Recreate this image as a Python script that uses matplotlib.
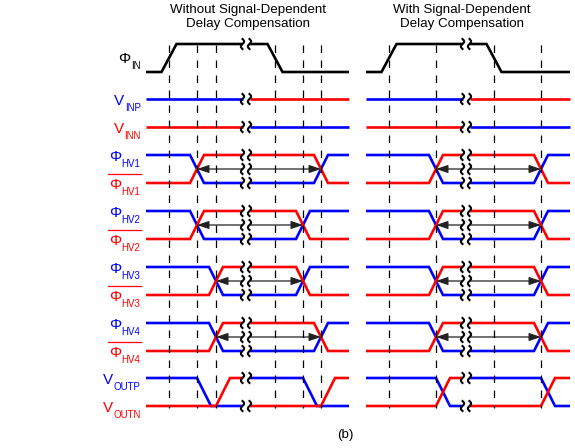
import numpy as np
import matplotlib.pyplot as plt

plt.rcParams['font.family'] = ['Liberation Sans', 'DejaVu Sans']

BLUE = '#0000ff'
RED = '#ff0000'

# time axis is in pixels of the 575x448 picture
left_span = (146, 349)
right_span = (366, 570)
left_break = 246
right_break = 466

titles = ['Without Signal-Dependent', 'Delay Compensation']
titles_r = ['With Signal-Dependent', 'Delay Compensation']

# dashed reference instants
left_dash = [169, 197, 216, 275, 303, 321]
right_dash = [389, 436, 494, 541]

# Φ_IN edges (rise centre, fall centre)
left_phi_in = (169, 275)
right_phi_in = (389, 494)

# Φ_HVk crossings (first, second)
left_hv = [(197, 321), (197, 303), (216, 303), (216, 321)]
right_hv = [(436, 541), (436, 541), (436, 541), (436, 541)]

# V_OUTP fall start / V_OUTN rise start (before break, after break)
left_outp = (197, 303)
left_outn = (216, 321)
right_outp = (436, 541)
right_outn = (436, 541)

# rail levels (high, low)
y_phi_in = (44, 72)
y_inp = 99
y_inn = 127
y_hv = [(155, 183), (211, 239), (267, 295), (323, 351)]
y_out = (378, 406)
hv_names = ['HV1', 'HV2', 'HV3', 'HV4']

W = 14      # edge width
GAP = 3.5   # half-gap at the break
LW = 1.9

fig = plt.figure(figsize=(5.75, 4.48), dpi=100)
ax = fig.add_axes([0, 0, 1, 1])
ax.set_xlim(0, 575)
ax.set_ylim(448, 0)
ax.axis('off')


def wave(a, b, hi, lo, level, edges, w=W):
    xs, ys = [a], [hi if level else lo]
    for e in edges:
        xs += [e, e + w]
        ys += [hi if level else lo]
        level = not level
        ys += [hi if level else lo]
    xs.append(b)
    ys.append(hi if level else lo)
    return xs, ys


def part(ax, a, b, hi, lo, level, edges, color, w=W, z=2):
    xs, ys = wave(a, b, hi, lo, level, edges, w)
    ax.plot(xs, ys, color=color, lw=LW, solid_capstyle='butt',
            solid_joinstyle='miter', zorder=z)


def squiggle(ax, x, y):
    t = np.linspace(-5, 5, 40)
    ax.plot(x - 1.6 * np.sin(np.pi * t / 5), y + t, color='black',
            lw=1.5, zorder=6)


def brk(ax, bx, y):
    squiggle(ax, bx - GAP, y)
    squiggle(ax, bx + GAP, y)


def label(ax, y, main, sub, color, bar=False):
    xr = 140.5
    fig.canvas.draw()
    r = fig.canvas.get_renderer()
    ts = ax.text(xr, y + 12.3, sub, fontsize=7, color=color,
                 ha='right', va='baseline')
    sw = ts.get_window_extent(r).width
    tm = ax.text(xr - sw - 0.3, y + 6, main, fontsize=11, color=color,
                 ha='right', va='baseline')
    if bar:
        mw = tm.get_window_extent(r).width
        ax.plot([xr - sw - 0.3 - mw - 1, xr], [y - 8.7, y - 8.7],
                color=color, lw=0.9)


def arrow(ax, x_from, x_to, y):
    ax.annotate('', xy=(x_to, y), xytext=(x_from, y),
                arrowprops=dict(arrowstyle='-|>,head_length=0.65,head_width=0.22',
                                color='#222222', lw=0.9, mutation_scale=11,
                                shrinkA=0, shrinkB=0), zorder=4)


def panel(span, bx, dash, phi_in, hv, outp, outn):
    a, b = span
    l, r = bx - GAP, bx + GAP
    # Φ_IN
    hi, lo = y_phi_in
    part(ax, a, l, hi, lo, False, [phi_in[0] - 7.5], 'black', w=15)
    part(ax, r, b, hi, lo, True, [phi_in[1] - 7.5], 'black', w=15)
    brk(ax, bx, hi)
    # V_INP / V_INN
    part(ax, a, l, y_inp, y_inp, True, [], BLUE)
    part(ax, r, b, y_inp, y_inp, True, [], RED)
    brk(ax, bx, y_inp)
    part(ax, a, l, y_inn, y_inn, True, [], RED)
    part(ax, r, b, y_inn, y_inn, True, [], BLUE)
    brk(ax, bx, y_inn)
    # Φ_HV pairs
    for (t1, t2), (hi, lo) in zip(hv, y_hv):
        part(ax, a, l, hi, lo, True, [t1 - W / 2], BLUE)
        part(ax, r, b, hi, lo, False, [t2 - W / 2], BLUE)
        part(ax, a, l, hi, lo, False, [t1 - W / 2], RED, z=3)
        part(ax, r, b, hi, lo, True, [t2 - W / 2], RED, z=3)
        ym = (hi + lo) / 2
        arrow(ax, l, t1, ym)
        arrow(ax, r, t2, ym)
        for y in (hi, ym, lo):
            brk(ax, bx, y)
    # V_OUTP / V_OUTN
    hi, lo = y_out
    part(ax, a, l, hi, lo, True, [outp[0]], BLUE)
    part(ax, r, b, hi, lo, True, [outp[1]], BLUE)
    part(ax, a, l, hi, lo, False, [outn[0]], RED, z=3)
    part(ax, r, b, hi, lo, False, [outn[1]], RED, z=3)
    brk(ax, bx, hi)
    brk(ax, bx, lo)
    # dashed references
    ax.vlines(dash, 45, 408, colors='black', lw=0.9,
              linestyles=(0, (6, 6)), zorder=5)


panel(left_span, left_break, left_dash, left_phi_in, left_hv, left_outp, left_outn)
panel(right_span, right_break, right_dash, right_phi_in, right_hv, right_outp, right_outn)

for i, t in enumerate(titles):
    ax.text(248, 13.5 + 13.5 * i, t, fontsize=9.6, ha='center', va='baseline')
for i, t in enumerate(titles_r):
    ax.text(462, 13.5 + 13.5 * i, t, fontsize=9.6, ha='center', va='baseline')

label(ax, y_phi_in[0] + 13, '\u03a6', 'IN', 'black')
label(ax, y_inp, 'V', 'INP', BLUE)
label(ax, y_inn, 'V', 'INN', RED)
for name, (hi, lo) in zip(hv_names, y_hv):
    label(ax, hi, '\u03a6', name, BLUE)
    label(ax, lo, '\u03a6', name, RED, bar=True)
label(ax, y_out[0], 'V', 'OUTP', BLUE)
label(ax, y_out[1], 'V', 'OUTN', RED)

ax.text(345, 438, '(b)', fontsize=9.6, ha='center', va='baseline')

fig.savefig('out.png', dpi=100)
